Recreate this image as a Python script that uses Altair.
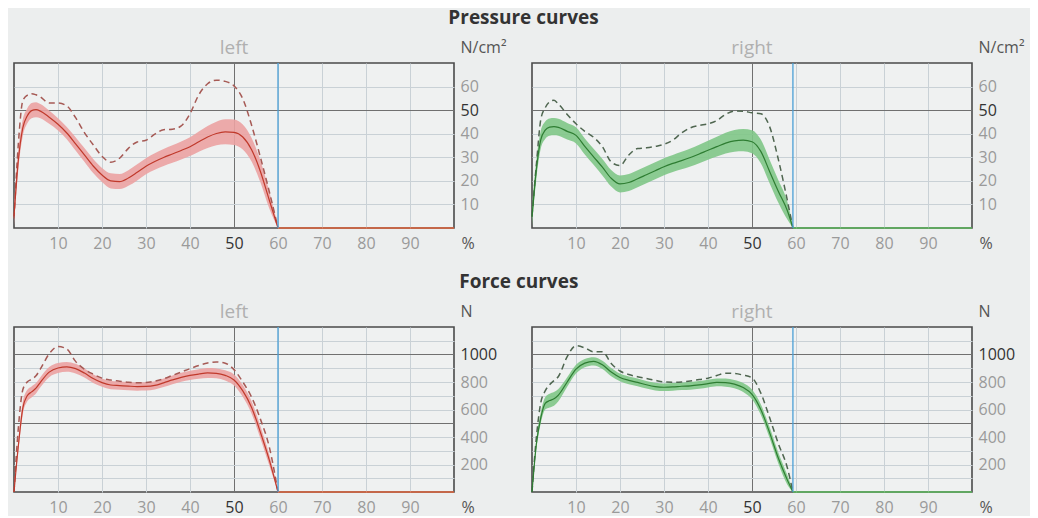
import altair as alt
import pandas as pd

# ---------------- data ----------------
X_L = [0, 1, 2, 3, 4, 5, 6, 8, 10, 12, 14, 16, 18, 20, 22, 24, 26, 28, 30,
       32, 34, 36, 38, 40, 42, 44, 46, 48, 50, 52, 54, 56, 58, 60]
X_R = [0, 1, 2, 3, 4, 5, 6, 8, 10, 12, 14, 16, 18, 20, 22, 24, 26, 28, 30,
       32, 34, 36, 38, 40, 42, 44, 46, 48, 50, 52, 54, 56, 58, 59.3]
END_L = 60
END_R = 59.3

# Pressure, left (N/cm²)
PL_MEAN = [5, 29, 42.5, 47.5, 49.8, 50.2, 49.6, 47, 44, 40.3, 35.7, 31, 26.3, 22.5, 20, 19.7, 21.2,
           23.6, 26.2, 28.2, 29.9, 31.4, 32.9, 34.5, 36.6, 38.6, 40.1, 40.8, 40.6, 38.6, 33.2, 24, 12, 0]
PL_SPREAD = [4, 4, 3.5, 3.2, 3.2, 3.2, 3, 2.8, 2.6, 2.6, 2.8, 2.9, 3, 3, 3.2, 3.2, 3.3,
             3.4, 3.4, 3.5, 3.6, 3.7, 3.8, 4, 4.3, 4.7, 5, 5.3, 5.4, 5.3, 5, 4.6, 3.6, 1]
PL_MAX = [4, 36, 54, 56.3, 57, 56.5, 55.6, 53, 53, 51.8, 46.8, 40.5, 35.3, 30.4, 27.9, 29.6, 33.8,
          36.5, 37.2, 39.8, 41.7, 41.9, 43.3, 48.5, 56.5, 61.2, 62.7, 62.2, 60.3, 54.8, 43.6, 30, 15.6, 0]

# Pressure, right (N/cm²)
PR_MEAN = [4.7, 25, 37.5, 41.5, 42.8, 43, 42.7, 41, 39.3, 34.6, 30.2, 25.8, 21.1, 18.7, 19.3, 20.9, 22.6,
           24.3, 26, 27.4, 28.6, 29.9, 31.4, 33, 34.5, 36, 37, 37.3, 36.6, 32.5, 24, 15.5, 7.5, 0]
PR_SPREAD = [4, 4, 3.8, 3.7, 3.7, 3.7, 3.6, 3.5, 3.4, 3.4, 3.4, 3.5, 3.5, 3.6, 3.6, 3.6, 3.6,
             3.6, 3.6, 3.6, 3.7, 3.8, 3.9, 4, 4.2, 4.4, 4.6, 4.7, 4.9, 5, 5, 4.8, 3.8, 1]
PR_MAX = [5, 27, 46, 51, 53.5, 54.2, 52.6, 48.2, 44.2, 41, 38.5, 34.5, 28, 26.5, 31, 33.7, 34,
          34.6, 35.5, 37.3, 40.3, 42.5, 43.5, 44.2, 45.6, 48.2, 49.6, 49.5, 48.9, 48.5, 43, 29, 12, 0]

# Force, left (N)
FL_MEAN = [0, 340, 610, 700, 728, 755, 798, 872, 902, 910, 897, 865, 825, 795, 778, 774, 770,
           767, 768, 775, 794, 815, 834, 848, 858, 866, 863, 848, 815, 735, 615, 435, 235, 0]
FL_SPREAD = [20, 40, 45, 42, 40, 38, 37, 37, 37, 36, 35, 33, 32, 30, 30, 30, 30,
             30, 30, 30, 31, 32, 33, 34, 35, 36, 36, 37, 40, 43, 45, 45, 40, 15]
FL_MAX = [0, 470, 744, 800, 820, 845, 895, 1005, 1058, 1040, 950, 893, 857, 828, 814, 806, 798,
          794, 796, 806, 823, 848, 872, 897, 920, 938, 946, 937, 890, 800, 690, 530, 330, 0]

# Force, right (N)
FR_MEAN = [0, 350, 540, 645, 665, 678, 705, 800, 893, 937, 950, 925, 872, 833, 812, 797, 780,
           767, 762, 764, 769, 772, 779, 788, 797, 796, 785, 760, 710, 600, 432, 245, 90, 0]
FR_SPREAD = [15, 35, 40, 45, 50, 50, 45, 35, 32, 30, 30, 30, 30, 28, 28, 28, 28,
             28, 28, 28, 28, 28, 28, 28, 28, 30, 30, 32, 35, 38, 40, 40, 35, 10]
FR_MAX = [0, 400, 650, 735, 780, 810, 840, 985, 1064, 1048, 1020, 1020, 935, 880, 854, 838, 825,
          812, 800, 798, 800, 808, 818, 828, 847, 864, 862, 850, 830, 720, 541, 350, 180, 0]

X_TICKS = [10, 20, 30, 40, 50, 60, 70, 80, 90]
P_TICKS = [10, 20, 30, 40, 50, 60]
F_TICKS = [100, 200, 300, 400, 500, 600, 700, 800, 900, 1000, 1100]

# ---------------- styling ----------------
FONT = "Open Sans"
W, H = 440, 165
LIGHT_GRID = "#c9d1d6"
DARK_GRID = "#707070"
LABEL_GREY = "#9a9a9a"
LABEL_DARK = "#333333"

RED = dict(band="#eba2a2", mean="#c0392b", max="#a65a55", tail="#e0643c")
GREEN = dict(band="#80c687", mean="#2e7d32", max="#4f6650", tail="#5cb85c")


def panel(x, mean, spread, mx, end, col, ymax, yticks, dark_vals, label_expr, unit, name):
    df = pd.DataFrame({
        "x": x,
        "mean": mean,
        "lo": [max(m - s, 0) for m, s in zip(mean, spread)],
        "hi": [m + s for m, s in zip(mean, spread)],
        "max": mx,
    })
    tail = pd.DataFrame({"x": [end, 100], "v": [0, 0]})
    marker = pd.DataFrame({"x": [end]})

    dark_test = " || ".join(f"datum.value == {v}" for v in dark_vals)

    xscale = alt.Scale(domain=[0, 100], nice=False, zero=False)
    yscale = alt.Scale(domain=[0, ymax], nice=False)

    xaxis = alt.Axis(
        values=X_TICKS, grid=True, ticks=False, domain=False,
        gridColor=alt.condition("datum.value == 50", alt.value(DARK_GRID), alt.value(LIGHT_GRID)),
        gridWidth=1,
        labelColor=alt.condition("datum.value == 50", alt.value(LABEL_DARK), alt.value(LABEL_GREY)),
        labelFont=FONT, labelFontSize=16, labelPadding=7,
        title="%", titleFont=FONT, titleFontSize=16, titleFontWeight="normal",
        titleColor="#555555", titleAngle=0, titleAlign="left", titleBaseline="top",
        titleX=W + 7, titleY=7,
    )
    yaxis_kw = dict(
        orient="right", values=yticks, grid=True, ticks=False, domain=False,
        gridColor=alt.condition(dark_test, alt.value(DARK_GRID), alt.value(LIGHT_GRID)),
        gridWidth=1, format="d",
        labelColor=alt.condition(dark_test, alt.value(LABEL_DARK), alt.value(LABEL_GREY)),
        labelFont=FONT, labelFontSize=16, labelPadding=6, labelAlign="left",
        labelBaseline="middle",
        title=unit, titleFont=FONT, titleFontSize=16, titleFontWeight="normal",
        titleColor="#555555", titleAngle=0, titleAlign="left", titleBaseline="middle",
        titleX=6, titleY=-16,
    )
    if label_expr:
        yaxis_kw["labelExpr"] = label_expr
    yaxis = alt.Axis(**yaxis_kw)

    xenc = alt.X("x:Q", scale=xscale, axis=xaxis)

    band = alt.Chart(df).mark_area(color=col["band"], opacity=0.9, interpolate="monotone").encode(
        x=xenc, y=alt.Y("lo:Q", scale=yscale, axis=yaxis), y2="hi:Q")
    mxl = alt.Chart(df).mark_line(color=col["max"], strokeWidth=1.5, strokeDash=[6, 4],
                                  interpolate="monotone").encode(
        x=xenc, y=alt.Y("max:Q", scale=yscale, axis=yaxis))
    mline = alt.Chart(df).mark_line(color=col["mean"], strokeWidth=1.2,
                                    interpolate="monotone").encode(
        x=xenc, y=alt.Y("mean:Q", scale=yscale, axis=yaxis))
    tl = alt.Chart(tail).mark_line(color=col["tail"], strokeWidth=1.5).encode(
        x=xenc, y=alt.Y("v:Q", scale=yscale, axis=yaxis))
    rule = alt.Chart(marker).mark_rule(color="#4a9fd6", strokeWidth=1.3).encode(x=xenc)

    return alt.layer(band, mxl, mline, tl, rule).properties(
        width=W, height=H,
        title=alt.TitleParams(name, color="#b0b0b0", fontSize=19, font=FONT,
                              fontWeight="normal", offset=-19),
    )


force_labels = "datum.value % 200 == 0 ? format(datum.value, 'd') : ''"

p_left = panel(X_L, PL_MEAN, PL_SPREAD, PL_MAX, END_L, RED, 70, P_TICKS, [50], None, "N/cm²", "left")
p_right = panel(X_R, PR_MEAN, PR_SPREAD, PR_MAX, END_R, GREEN, 70, P_TICKS, [50], None, "N/cm²", "right")
f_left = panel(X_L, FL_MEAN, FL_SPREAD, FL_MAX, END_L, RED, 1200, F_TICKS, [500, 1000], force_labels, "N", "left")
f_right = panel(X_R, FR_MEAN, FR_SPREAD, FR_MAX, END_R, GREEN, 1200, F_TICKS, [500, 1000], force_labels, "N", "right")

main_title = dict(font=FONT, fontSize=19, fontWeight="bold", color="#333333", anchor="middle",
                  offset=10, dx=6)

row1 = alt.hconcat(p_left, p_right, spacing=78, bounds="flush").properties(
    title=alt.TitleParams("Pressure curves", **main_title))
row2 = alt.hconcat(f_left, f_right, spacing=78, bounds="flush").properties(
    title=alt.TitleParams("Force curves", **main_title))

chart = alt.vconcat(row1, row2, spacing=21).properties(
    background="#eceeee",
    padding={"left": 2, "top": 1, "right": 5, "bottom": 0},
).configure_view(
    fill="#eff1f1", stroke="#4a4a4a", strokeWidth=1.6,
)

chart.save("out.html", embed_options={"renderer": "svg", "actions": False})
